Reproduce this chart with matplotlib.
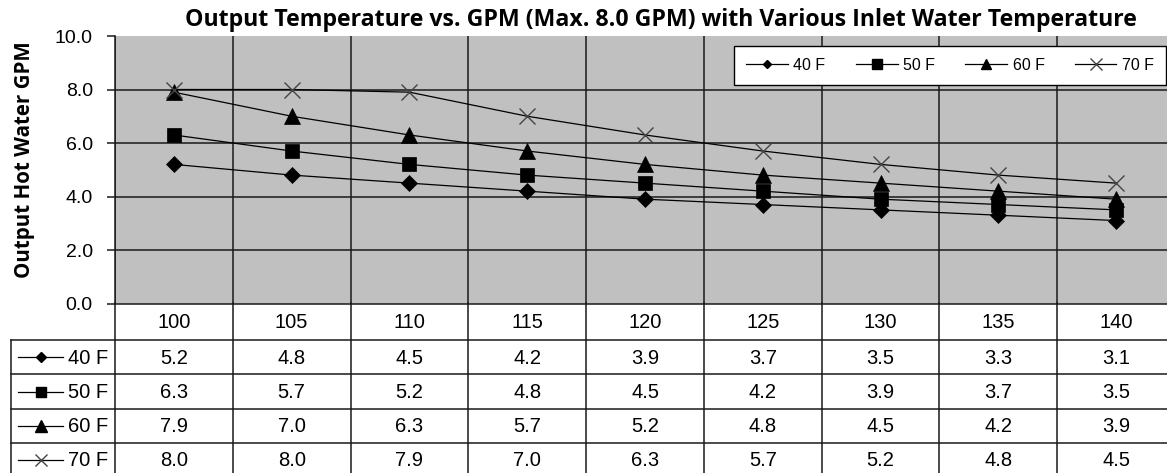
import matplotlib
matplotlib.use("Agg")
import matplotlib.pyplot as plt
from matplotlib.lines import Line2D

# Data
temps = [100, 105, 110, 115, 120, 125, 130, 135, 140]
series_names = ["40 F", "50 F", "60 F", "70 F"]
gpm_40 = [5.2, 4.8, 4.5, 4.2, 3.9, 3.7, 3.5, 3.3, 3.1]
gpm_50 = [6.3, 5.7, 5.2, 4.8, 4.5, 4.2, 3.9, 3.7, 3.5]
gpm_60 = [7.9, 7.0, 6.3, 5.7, 5.2, 4.8, 4.5, 4.2, 3.9]
gpm_70 = [8.0, 8.0, 7.9, 7.0, 6.3, 5.7, 5.2, 4.8, 4.5]
y_ticks = [0.0, 2.0, 4.0, 6.0, 8.0, 10.0]

series = [gpm_40, gpm_50, gpm_60, gpm_70]
# marker, plot size, legend size, colour
styles = [("D", 8.0, 4.5, "black"),
          ("s", 10.5, 6.5, "black"),
          ("^", 12, 7.5, "black"),
          ("x", 12, 8, "#444444")]

W, H = 1167, 473
fig = plt.figure(figsize=(W / 100, H / 100), dpi=100)

# plot area in pixel terms (right edge is cut off by the image)
px_left, px_right, px_top, px_bottom = 115, 1175, 36, 303.5
ax = fig.add_axes([px_left / W, 1 - px_bottom / H,
                   (px_right - px_left) / W, (px_bottom - px_top) / H])
ax.set_facecolor("#c0c0c0")
ax.set_xlim(-0.5, len(temps) - 0.5)
ax.set_ylim(0, 10)

grid_kw = dict(color="#1a1a1a", lw=1.1, zorder=1)
for v in y_ticks[1:-1]:
    ax.axhline(v, **grid_kw)
for i in range(len(temps) + 1):
    ax.axvline(i - 0.5, **grid_kw)

x = list(range(len(temps)))
for vals, (m, ms, _, c) in zip(series, styles):
    ax.plot(x, vals, color="black", lw=0.9, marker=m, markersize=ms,
            markerfacecolor=c, markeredgecolor=c,
            markeredgewidth=1.0 if m == "x" else 0.5, zorder=3)

for s in ["top", "right"]:
    ax.spines[s].set_visible(False)
for s in ["left", "bottom"]:
    ax.spines[s].set_color("#1a1a1a")
    ax.spines[s].set_linewidth(1.1)
ax.set_xticks([])
ax.set_yticks(y_ticks)
ax.set_yticklabels([f"{v:.1f}" for v in y_ticks], fontfamily="Liberation Sans",
                   fontsize=14)
ax.tick_params(axis="y", direction="out", length=6, width=1.1, pad=10,
               color="#1a1a1a")

# legend inside plot
handles = [Line2D([], [], color="black", lw=0.9, marker=m, markersize=lms,
                  markerfacecolor=c, markeredgecolor=c)
           for (m, _, lms, c) in styles]
leg = ax.legend(handles, series_names, loc="upper right",
                bbox_to_anchor=(1166 / W, 1 - 45.7 / H),
                bbox_transform=fig.transFigure, ncol=4,
                frameon=True, fancybox=False, edgecolor="black",
                framealpha=1, handlelength=2.6, handletextpad=0.35,
                borderaxespad=0, borderpad=0.75, columnspacing=1.9,
                prop={"family": "Liberation Sans", "size": 11.5})
leg.get_frame().set_linewidth(1.0)

# data table below the plot, y in image pixels
tax = fig.add_axes([px_left / W, 0, (px_right - px_left) / W, (H - px_bottom) / H])
tax.set_xlim(-0.5, len(temps) - 0.5)
tax.set_ylim(H, px_bottom)
tax.axis("off")
col_w = (px_right - px_left) / len(temps)
x_left_col = -0.5 - (px_left - 11) / col_w
row_edges = [px_bottom, 340.5, 374.5, 408.5, 442.5, 476.5]
lk = dict(color="#1a1a1a", lw=1.1, clip_on=False)
for yy in row_edges[1:-1]:
    tax.plot([x_left_col, len(temps) - 0.5], [yy, yy], **lk)
tax.plot([x_left_col, x_left_col], [row_edges[1], H], **lk)
for i in range(len(temps) + 1):
    tax.plot([i - 0.5, i - 0.5], [px_bottom, H], **lk)

txt = dict(fontfamily="Liberation Sans", fontsize=14.5, ha="center", va="center")
for i, t in enumerate(temps):
    tax.text(i, (row_edges[0] + row_edges[1]) / 2 + 1, str(t), **txt)
for r, (vals, name, (m, _, lms, c)) in enumerate(zip(series, series_names, styles)):
    yc = (row_edges[r + 1] + row_edges[r + 2]) / 2
    for i, v in enumerate(vals):
        tax.text(i, yc + 1, f"{v:.1f}", **txt)
    # legend key in left column
    kx0 = x_left_col + 7 / col_w
    kx1 = x_left_col + 52 / col_w
    tax.plot([kx0, kx1], [yc, yc], color="black", lw=0.9, clip_on=False)
    tax.plot([(kx0 + kx1) / 2], [yc], marker=m, markersize=lms + 1, color=c,
             markeredgecolor=c, clip_on=False)
    tax.text(x_left_col + 57 / col_w, yc + 1, name, fontfamily="Liberation Sans",
             fontsize=14.5, ha="left", va="center")

fig.text(661 / W, 1 - 20 / H,
         "Output Temperature vs. GPM (Max. 8.0 GPM) with Various Inlet Water Temperature",
         fontfamily="Open Sans", fontweight="bold", fontsize=16.7,
         ha="center", va="center")
fig.text(25 / W, 1 - 160 / H, "Output Hot Water GPM", fontfamily="Open Sans",
         fontweight="bold", fontsize=14.8, rotation=90, ha="center", va="center")

fig.savefig("out.png", dpi=100)
